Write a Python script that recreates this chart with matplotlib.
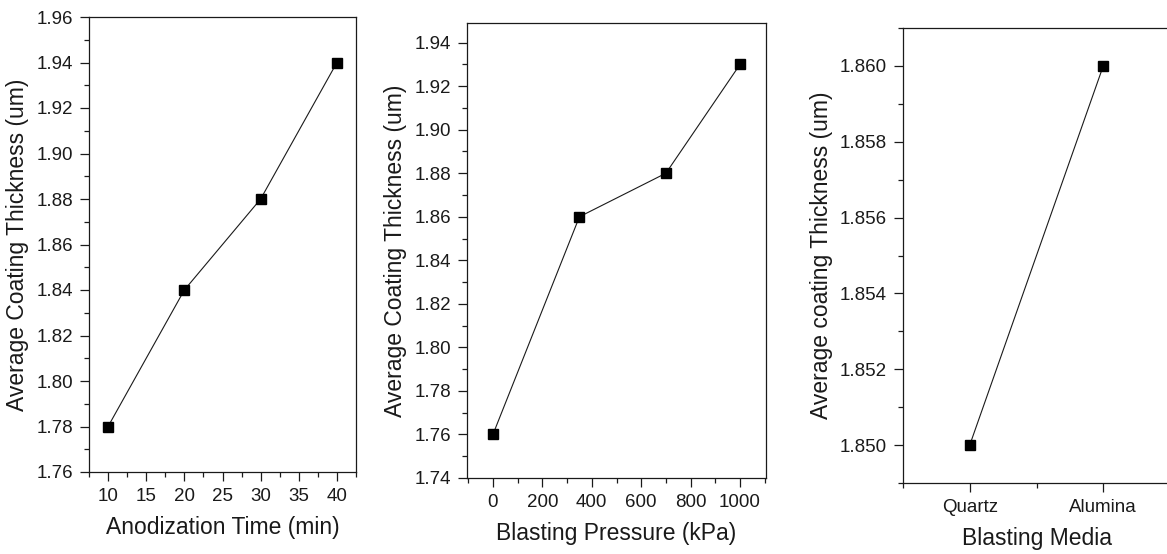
import matplotlib
matplotlib.use('Agg')
import matplotlib.pyplot as plt
from matplotlib.ticker import MultipleLocator, FormatStrFormatter

plt.rcParams['font.family'] = ['Liberation Sans', 'DejaVu Sans']

# Data
anod_time = [10, 20, 30, 40]
anod_thick = [1.78, 1.84, 1.88, 1.94]

blast_pressure = [0, 350, 700, 1000]
blast_thick = [1.76, 1.86, 1.88, 1.93]

media_names = ['Quartz', 'Alumina']
media_thick = [1.850, 1.860]

W, H = 1167, 554
TICK_FS = 13.5
LABEL_FS = 16.5
INK = '#1a1a1a'


def px_axes(fig, left, top, right, bottom):
    return fig.add_axes([left / W, (H - bottom) / H, (right - left) / W, (bottom - top) / H])


def style(ax):
    for s in ax.spines.values():
        s.set_linewidth(0.9)
        s.set_color(INK)
    ax.tick_params(which='both', direction='out', top=False, right=False,
                   colors=INK, labelsize=TICK_FS, width=0.9, pad=5)
    ax.tick_params(which='major', length=6.5)
    ax.tick_params(which='minor', length=3.5)


def draw(ax, x, y):
    ax.plot(x, y, '-', color=INK, lw=0.8, marker='s', markersize=7.7,
            markerfacecolor='black', markeredgecolor='black')


fig = plt.figure(figsize=(W / 100, H / 100), dpi=100)

# Panel 1 - anodization time
ax1 = px_axes(fig, 89, 17, 356, 472)
draw(ax1, anod_time, anod_thick)
ax1.set_xlim(7.5, 42.5)
ax1.set_ylim(1.76, 1.96)
ax1.xaxis.set_major_locator(MultipleLocator(5))
ax1.xaxis.set_minor_locator(MultipleLocator(2.5))
ax1.yaxis.set_major_locator(MultipleLocator(0.02))
ax1.yaxis.set_minor_locator(MultipleLocator(0.01))
ax1.yaxis.set_major_formatter(FormatStrFormatter('%.2f'))
ax1.set_xlabel('Anodization Time (min)', fontsize=LABEL_FS, color=INK, labelpad=8)
ax1.set_ylabel('Average Coating Thickness (um)', fontsize=LABEL_FS, color=INK, labelpad=5)
style(ax1)

# Panel 2 - blasting pressure
ax2 = px_axes(fig, 467, 23, 766, 478)
draw(ax2, blast_pressure, blast_thick)
ax2.set_xlim(-105, 1105)
ax2.set_ylim(1.74, 1.949)
ax2.xaxis.set_major_locator(MultipleLocator(200))
ax2.xaxis.set_minor_locator(MultipleLocator(100))
ax2.yaxis.set_major_locator(MultipleLocator(0.02))
ax2.yaxis.set_minor_locator(MultipleLocator(0.01))
ax2.yaxis.set_major_formatter(FormatStrFormatter('%.2f'))
ax2.set_xlabel('Blasting Pressure (kPa)', fontsize=LABEL_FS, color=INK, labelpad=8)
ax2.set_ylabel('Average Coating Thickness (um)', fontsize=LABEL_FS, color=INK, labelpad=5)
style(ax2)

# Panel 3 - blasting media (right spine runs off the image)
ax3 = px_axes(fig, 903, 28, 1170, 483)
pos = list(range(1, len(media_names) + 1))
draw(ax3, pos, media_thick)
ax3.set_xlim(0.5, 2.5)
ax3.set_ylim(1.849, 1.861)
ax3.set_xticks(pos)
ax3.set_xticklabels(media_names)
ax3.set_xticks([0.5, 1.5, 2.5], minor=True)
ax3.yaxis.set_major_locator(MultipleLocator(0.002))
ax3.yaxis.set_minor_locator(MultipleLocator(0.001))
ax3.yaxis.set_major_formatter(FormatStrFormatter('%.3f'))
ax3.set_xlabel('Blasting Media', fontsize=LABEL_FS, color=INK, labelpad=8)
ax3.set_ylabel('Average coating Thickness (um)', fontsize=LABEL_FS, color=INK, labelpad=5)
style(ax3)

fig.savefig('out.png', dpi=100)
